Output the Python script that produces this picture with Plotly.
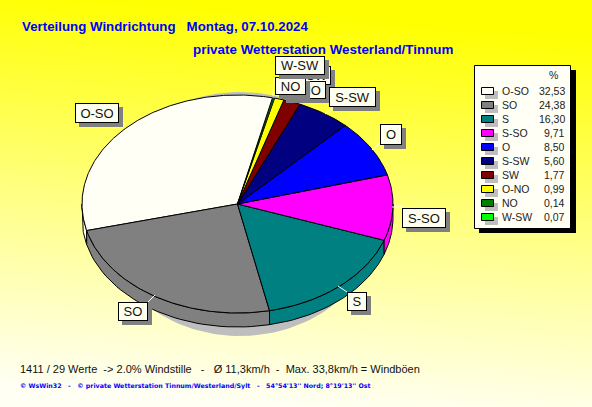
import numpy as np
import plotly.graph_objects as go

W, H = 592, 407
categories = ["O-SO", "SO", "S", "S-SO", "O", "S-SW", "SW", "O-NO", "NO", "W-SW"]
percent = [32.53, 24.38, 16.30, 9.71, 8.50, 5.60, 1.77, 0.99, 0.14, 0.07]
colors = ["#FFFFF5", "#808080", "#008080", "#FF00FF", "#0000FF",
          "#000080", "#800000", "#FFFF00", "#008000", "#00FF00"]

CX, CY, RX, RY, DEPTH = 237.5, 204, 155.5, 109, 14
START = 13  # angle clockwise from top where the first slice begins, running counter-clockwise


def ex(a):
    return CX + RX * np.sin(np.radians(a))


def ey(a, d=0):
    return CY - RY * np.cos(np.radians(a)) + d


fig = go.Figure()

# background gradient
gx = np.linspace(0, W, 40)
gy = np.linspace(0, H, 60)
gz = np.array([[float(np.clip((y - 12) / 395 + (W / 2 - x) / W * 0.12, 0, 1)) for x in gx] for y in gy])
fig.add_trace(go.Heatmap(x=gx, y=gy, z=gz, zmin=0, zmax=1, zsmooth="best", showscale=False, hoverinfo="skip",
                         colorscale=[[0, "#FFFF00"], [0.5, "#FFFF80"], [1, "#FFFFF4"]]))

# shadow of the pie
t = np.linspace(0, 360, 181)
fig.add_trace(go.Scatter(x=240 + 140 * np.sin(np.radians(t)), y=214 - 122 * np.cos(np.radians(t)), mode="lines",
                         fill="toself", fillcolor="#BEBEBE", line=dict(width=0), hoverinfo="skip"))

# slices
ends = START - np.cumsum(percent) * 3.6
begins = np.concatenate(([START], ends[:-1]))
spans = [(e % 360, (e % 360) + (b - e)) for b, e in zip(begins, ends)]

# outer wall
for (a0, a1), c in zip(spans, colors):
    lo, hi = max(a0, 90), min(a1, 270)
    if hi <= lo:
        continue
    a = np.linspace(lo, hi, 40)
    xs = np.concatenate((ex(a), ex(a[::-1]), [ex(a[0])]))
    ys = np.concatenate((ey(a), ey(a[::-1], DEPTH), [ey(a[0])]))
    fig.add_trace(go.Scatter(x=xs, y=ys, mode="lines", fill="toself", fillcolor=c,
                             line=dict(color="black", width=1), hoverinfo="skip"))

# top face; the thinnest slices get a finer outline so their colour still shows
for (a0, a1), c in zip(spans, colors):
    a = np.linspace(a0, a1, max(4, int((a1 - a0) * 1.5)))
    xs = np.concatenate(([CX], ex(a), [CX]))
    ys = np.concatenate(([CY], ey(a), [CY]))
    fig.add_trace(go.Scatter(x=xs, y=ys, mode="lines", fill="toself", fillcolor=c,
                             line=dict(color="black", width=1 if a1 - a0 > 3 else 0.4), hoverinfo="skip"))

shapes = []
annotations = []


def rect(x0, y0, x1, y1, fill, line=None):
    shapes.append(dict(type="rect", xref="x", yref="y", x0=x0, y0=y0, x1=x1, y1=y1, fillcolor=fill,
                       line=dict(color=line or fill, width=1 if line else 0)))


def text(x, y, s, size=11, color="black", family="Liberation Sans", anchor="left", bold=False):
    annotations.append(dict(x=x, y=y, xref="x", yref="y", text=f"<b>{s}</b>" if bold else s, showarrow=False,
                            xanchor=anchor, yanchor="middle", borderpad=0,
                            font=dict(size=size, color=color, family=family)))


def leader(x0, y0, x1, y1):
    shapes.append(dict(type="line", xref="x", yref="y", x0=x0, y0=y0, x1=x1, y1=y1,
                       line=dict(color="white", width=1)))


def label(x0, y0, x1, y1, s):
    w, h = x1 - x0, y1 - y0
    annotations.append(dict(x=x0 + 4, y=y0 + 4, xref="x", yref="y", text=" ", showarrow=False, xanchor="left",
                            yanchor="top", width=w, height=h, bgcolor="#808080", borderpad=0, borderwidth=0))
    annotations.append(dict(x=x0, y=y0, xref="x", yref="y", text=s, showarrow=False, xanchor="left", yanchor="top",
                            width=w - 2, height=h - 2, bgcolor="#FFFFF0", bordercolor="black", borderwidth=1,
                            borderpad=0, align="center", valign="middle",
                            font=dict(size=13, color="#111111", family="Liberation Sans")))


# leader lines
leader(119, 120, 126, 125)
leader(335, 107, 325, 114)
leader(380, 143, 372, 150)
leader(392, 207, 403, 207)
leader(347, 292, 338, 286)
leader(148, 302, 155, 295)
leader(274, 78, 273, 96)

# pie labels, later ones cover earlier ones
label(303, 66, 331, 85, "SW")
label(282, 81, 326, 99, "O-NO")
label(275, 77, 306, 95, "NO")
label(275, 56, 325, 75, "W-SW")
label(329, 87, 376, 107, "S-SW")
label(380, 124, 402, 145, "O")
label(402, 208, 446, 228, "S-SO")
label(75, 103, 119, 123, "O-SO")
label(347, 292, 367, 311, "S")
label(118, 302, 148, 321, "SO")

# legend
rect(479, 70, 576, 233, "black")
rect(474.5, 65.5, 570.5, 228.5, "#FFFFF5", "black")
text(548, 75, "%", size=10.5, color="#222222")
for i, (name, val, c) in enumerate(zip(categories, percent, colors)):
    ym = 91 + 14 * i
    rect(485, ym, 498, ym + 8, "#BEBEBE")
    rect(481.5, ym - 3.5, 493.5, ym + 3.5, c, "black")
    text(501, ym, name, size=10.5, color="#222222")
    text(566, ym, f"{val:.2f}".replace(".", ","), size=10.5, color="#222222", anchor="right")

# titles and footer
text(21, 26, "Verteilung Windrichtung\u00a0\u00a0\u00a0Montag, 07.10.2024", size=13.3, color="#0000FF", bold=True)
text(192, 49, "private Wetterstation Westerland/Tinnum", size=13.4, color="#0000FF", bold=True)
text(19, 369, "1411 / 29 Werte\u00a0\u00a0-> 2.0% Windstille\u00a0\u00a0\u00a0-\u00a0\u00a0\u00a0Ø 11,3km/h\u00a0\u00a0-\u00a0\u00a0Max. 33,8km/h = Windböen",
     size=11, color="#111111")
text(19, 386, "© WsWin32\u00a0\u00a0\u00a0-\u00a0\u00a0\u00a0© private Wetterstation Tinnum/Westerland/Sylt\u00a0\u00a0\u00a0-\u00a0\u00a0\u00a054°54'13'' Nord; 8°19'13'' Ost",
     size=6.3, color="#0000FF", family="DejaVu Sans", bold=True)

fig.update_layout(width=W, height=H, margin=dict(l=0, r=0, t=0, b=0), showlegend=False,
                  paper_bgcolor="#FFFF80", plot_bgcolor="#FFFF80",
                  xaxis=dict(range=[0, W], visible=False, fixedrange=True),
                  yaxis=dict(range=[H, 0], visible=False, fixedrange=True),
                  shapes=shapes, annotations=annotations)
fig.write_html("out.html", config=dict(displayModeBar=False),
               post_script="document.body.style.margin='0';document.documentElement.style.overflow='hidden';")
